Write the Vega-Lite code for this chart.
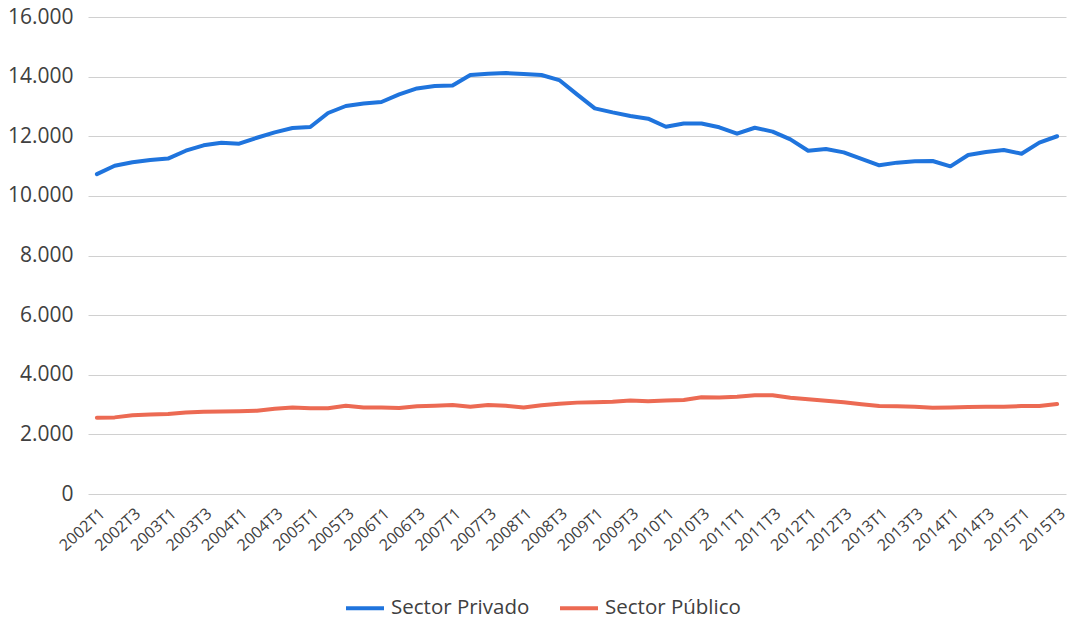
{
  "$schema": "https://vega.github.io/schema/vega-lite/v6.json",
  "width": 978,
  "height": 477,
  "autosize": "none",
  "padding": {"left": 88, "top": 17, "right": 6, "bottom": 128},
  "background": "white",
  "data": {"values": [
    {"q":"2002T1","privado":10730,"publico":2560},
    {"q":"2002T2","privado":11010,"publico":2570},
    {"q":"2002T3","privado":11125,"publico":2640},
    {"q":"2002T4","privado":11200,"publico":2670},
    {"q":"2003T1","privado":11250,"publico":2685},
    {"q":"2003T2","privado":11515,"publico":2730},
    {"q":"2003T3","privado":11695,"publico":2760},
    {"q":"2003T4","privado":11785,"publico":2765},
    {"q":"2004T1","privado":11750,"publico":2775},
    {"q":"2004T2","privado":11950,"publico":2795},
    {"q":"2004T3","privado":12130,"publico":2860},
    {"q":"2004T4","privado":12275,"publico":2905},
    {"q":"2005T1","privado":12310,"publico":2875},
    {"q":"2005T2","privado":12780,"publico":2875},
    {"q":"2005T3","privado":13015,"publico":2960},
    {"q":"2005T4","privado":13100,"publico":2905},
    {"q":"2006T1","privado":13150,"publico":2905},
    {"q":"2006T2","privado":13405,"publico":2885},
    {"q":"2006T3","privado":13605,"publico":2940},
    {"q":"2006T4","privado":13685,"publico":2960},
    {"q":"2007T1","privado":13705,"publico":2985},
    {"q":"2007T2","privado":14055,"publico":2930},
    {"q":"2007T3","privado":14100,"publico":2985},
    {"q":"2007T4","privado":14120,"publico":2960},
    {"q":"2008T1","privado":14085,"publico":2905},
    {"q":"2008T2","privado":14055,"publico":2975},
    {"q":"2008T3","privado":13885,"publico":3030},
    {"q":"2008T4","privado":13405,"publico":3065},
    {"q":"2009T1","privado":12935,"publico":3075},
    {"q":"2009T2","privado":12800,"publico":3095},
    {"q":"2009T3","privado":12680,"publico":3140},
    {"q":"2009T4","privado":12590,"publico":3110},
    {"q":"2010T1","privado":12320,"publico":3140},
    {"q":"2010T2","privado":12430,"publico":3155},
    {"q":"2010T3","privado":12430,"publico":3245},
    {"q":"2010T4","privado":12300,"publico":3240},
    {"q":"2011T1","privado":12085,"publico":3265},
    {"q":"2011T2","privado":12285,"publico":3310},
    {"q":"2011T3","privado":12155,"publico":3310},
    {"q":"2011T4","privado":11895,"publico":3230},
    {"q":"2012T1","privado":11515,"publico":3175},
    {"q":"2012T2","privado":11570,"publico":3130},
    {"q":"2012T3","privado":11460,"publico":3075},
    {"q":"2012T4","privado":11245,"publico":3010},
    {"q":"2013T1","privado":11025,"publico":2950},
    {"q":"2013T2","privado":11115,"publico":2940},
    {"q":"2013T3","privado":11160,"publico":2930},
    {"q":"2013T4","privado":11170,"publico":2895},
    {"q":"2014T1","privado":10990,"publico":2905},
    {"q":"2014T2","privado":11370,"publico":2920},
    {"q":"2014T3","privado":11470,"publico":2930},
    {"q":"2014T4","privado":11540,"publico":2930},
    {"q":"2015T1","privado":11415,"publico":2950},
    {"q":"2015T2","privado":11785,"publico":2950},
    {"q":"2015T3","privado":12000,"publico":3020}
  ]},
  "transform": [{"fold": ["privado", "publico"], "as": ["serie", "valor"]}],
  "mark": {"type": "line", "strokeWidth": 4, "strokeCap": "round", "strokeJoin": "round"},
  "encoding": {
    "x": {
      "field": "q", "type": "ordinal", "sort": null,
      "scale": {"type": "point", "padding": 0.5},
      "axis": {
        "title": null,
        "values": ["2002T1","2002T3","2003T1","2003T3","2004T1","2004T3","2005T1","2005T3","2006T1","2006T3","2007T1","2007T3","2008T1","2008T3","2009T1","2009T3","2010T1","2010T3","2011T1","2011T3","2012T1","2012T3","2013T1","2013T3","2014T1","2014T3","2015T1","2015T3"],
        "labelAngle": -42, "labelAlign": "right", "labelBaseline": "top",
        "labelFont": "Open Sans", "labelFontSize": 16, "labelColor": "#404040",
        "ticks": false, "domain": false, "grid": false, "labelPadding": 11
      }
    },
    "y": {
      "field": "valor", "type": "quantitative",
      "scale": {"domain": [0, 16000], "nice": false},
      "axis": {
        "title": null,
        "values": [0, 2000, 4000, 6000, 8000, 10000, 12000, 14000, 16000],
        "labelExpr": "replace(format(datum.value, ',d'), ',', '.')",
        "labelFont": "Open Sans", "labelFontSize": 21, "labelColor": "#404040",
        "labelPadding": 15, "ticks": false, "domain": false,
        "gridColor": "#d0d0d0", "gridWidth": 1
      }
    },
    "color": {
      "field": "serie", "type": "nominal",
      "scale": {"domain": ["privado", "publico"], "range": ["#1f74dd", "#ec6a53"]},
      "legend": {
        "title": null, "orient": "none", "legendX": 256, "legendY": 570,
        "direction": "horizontal", "symbolType": "stroke", "symbolStrokeWidth": 4,
        "symbolSize": 1444, "labelFont": "Open Sans", "labelFontSize": 20.5,
        "labelColor": "#404040", "columnPadding": 22, "labelOffset": 5, "padding": 0,
        "labelExpr": "datum.label == 'privado' ? 'Sector Privado' : 'Sector Público'"
      }
    }
  },
  "config": {"view": {"stroke": null}}
}
